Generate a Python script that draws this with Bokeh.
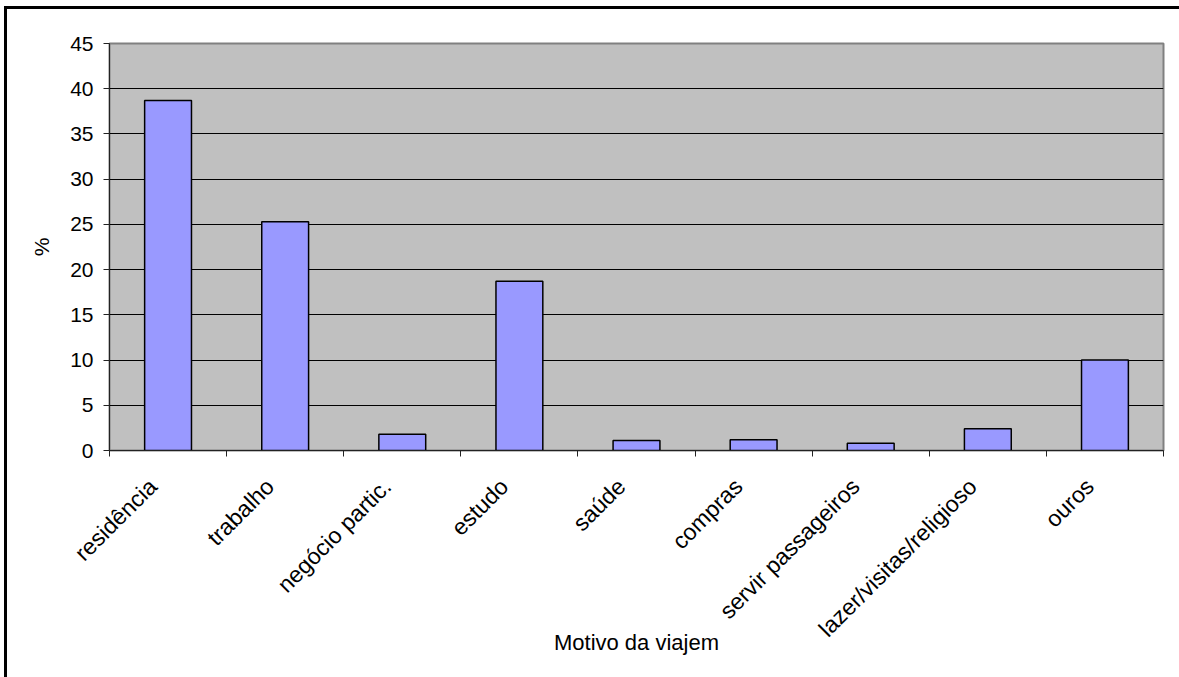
from bokeh.plotting import figure
from bokeh.models import Range1d, FixedTicker, ColumnDataSource
from bokeh.embed import file_html
from bokeh.resources import INLINE

# Trip purpose shares (%)
motivos = ["residência", "trabalho", "negócio partic.", "estudo", "saúde",
           "compras", "servir passageiros", "lazer/visitas/religioso", "ouros"]
percentuais = [38.7, 25.3, 1.8, 18.7, 1.1, 1.2, 0.8, 2.4, 10.0]
y_ticks = [0, 5, 10, 15, 20, 25, 30, 35, 40, 45]

FONT = "Liberation Sans"

centros = [i + 0.5 for i in range(len(motivos))]
# rotated labels hang slightly left of each category centre
pos_rotulos = [c - 0.13 for c in centros]
src = ColumnDataSource(dict(x=centros, top=percentuais))

p = figure(
    width=1172, height=668,
    frame_width=1054, frame_height=407,
    min_border_left=102, min_border_top=34,
    min_border_right=16, min_border_bottom=227,
    x_range=Range1d(0, len(motivos)), y_range=Range1d(0, 45),
    output_backend="svg", toolbar_location=None,
)
# black chart-area frame along the top and left edges
p.styles = {
    "margin-left": "4px", "margin-top": "6px",
    "border-left": "3px solid black", "border-top": "3px solid black",
}

p.background_fill_color = "#C0C0C0"
p.border_fill_color = "white"
p.outline_line_color = "#808080"
p.outline_line_width = 2

p.vbar(x="x", top="top", width=0.4, bottom=0, source=src,
       fill_color="#9999FF", line_color="black", line_width=1.5)

# y axis
p.yaxis.ticker = FixedTicker(ticks=y_ticks)
p.yaxis.axis_label = "%"
p.yaxis.axis_label_text_font = FONT
p.yaxis.axis_label_text_font_size = "21px"
p.yaxis.axis_label_text_font_style = "normal"
p.yaxis.axis_label_text_color = "black"
p.yaxis.axis_label_standoff = 14
p.yaxis.major_label_text_font = FONT
p.yaxis.major_label_text_font_size = "21px"
p.yaxis.major_label_text_color = "black"
p.yaxis.major_label_standoff = 10
p.yaxis.major_tick_out = 6
p.yaxis.major_tick_in = 0
p.yaxis.minor_tick_out = 0
p.yaxis.minor_tick_in = 0
p.yaxis.axis_line_color = "#222222"
p.yaxis.major_tick_line_color = "#222222"

# x axis: labels near category centres, tick marks at category boundaries
p.xaxis.ticker = FixedTicker(ticks=pos_rotulos, minor_ticks=list(range(len(motivos) + 1)))
p.xaxis.major_label_overrides = {c: m for c, m in zip(pos_rotulos, motivos)}
p.xaxis.major_label_orientation = 0.785398
p.xaxis.major_label_text_font = FONT
p.xaxis.major_label_text_font_size = "23px"
p.xaxis.major_label_text_color = "black"
p.xaxis.major_label_standoff = 26
p.xaxis.major_tick_out = 0
p.xaxis.major_tick_in = 0
p.xaxis.minor_tick_out = 6
p.xaxis.minor_tick_in = 0
p.xaxis.minor_tick_line_color = "#222222"
p.xaxis.axis_line_color = "#222222"
p.xaxis.axis_label = "Motivo da viajem"
p.xaxis.axis_label_text_font = FONT
p.xaxis.axis_label_text_font_size = "22px"
p.xaxis.axis_label_text_font_style = "normal"
p.xaxis.axis_label_text_color = "black"
p.xaxis.axis_label_standoff = -24

p.xgrid.visible = False
p.ygrid.ticker = FixedTicker(ticks=y_ticks)
p.ygrid.grid_line_color = "black"
p.ygrid.grid_line_width = 1

open("out.html", "w").write(file_html(p, INLINE))
